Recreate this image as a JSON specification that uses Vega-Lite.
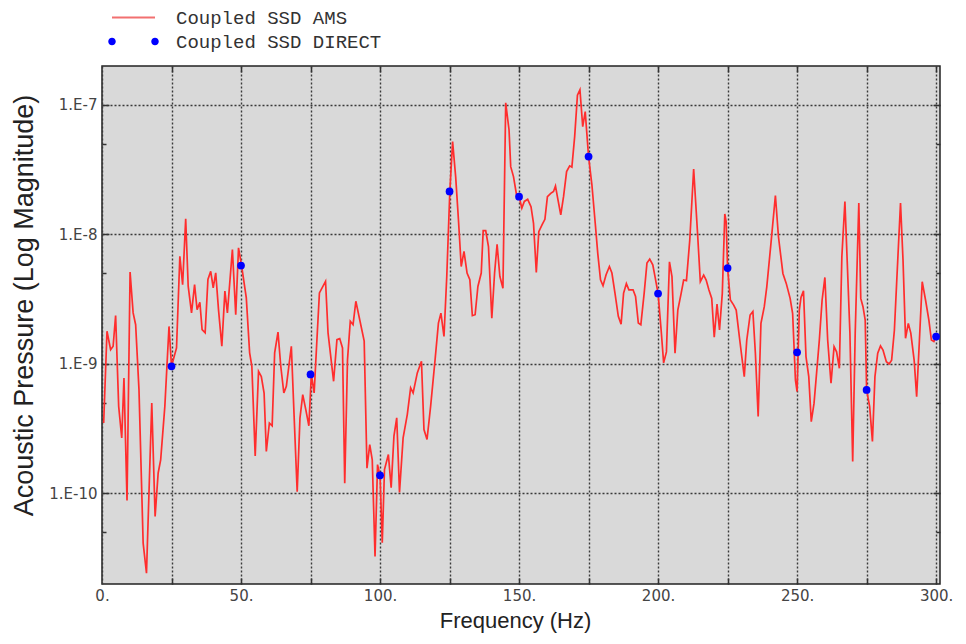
{
  "$schema": "https://vega.github.io/schema/vega-lite/v6.json",
  "width": 838,
  "height": 518,
  "autosize": "none",
  "padding": {"left": 102, "top": 66, "right": 26, "bottom": 60},
  "background": "white",
  "datasets": {
    "ams": [
      {"f": 0.6, "p": 3.5e-10}, {"f": 1.8, "p": 1.79e-9}, {"f": 3.1, "p": 1.29e-9}, {"f": 4.0, "p": 1.37e-9},
      {"f": 4.9, "p": 2.37e-9}, {"f": 6.0, "p": 4.71e-10}, {"f": 7.1, "p": 2.68e-10}, {"f": 7.9, "p": 7.8e-10},
      {"f": 9.0, "p": 8.83e-11}, {"f": 10.1, "p": 5.12e-9}, {"f": 11.2, "p": 2.48e-9}, {"f": 12.1, "p": 2.01e-9},
      {"f": 13.3, "p": 6.34e-10}, {"f": 14.8, "p": 4.13e-11}, {"f": 16.0, "p": 2.42e-11}, {"f": 17.9, "p": 4.99e-10},
      {"f": 19.1, "p": 6.64e-11}, {"f": 20.2, "p": 1.44e-10}, {"f": 21.1, "p": 1.82e-10}, {"f": 22.6, "p": 4.71e-10},
      {"f": 24.1, "p": 1.95e-9}, {"f": 25.0, "p": 9.6e-10}, {"f": 26.8, "p": 1.33e-9}, {"f": 28.0, "p": 6.79e-9},
      {"f": 29.0, "p": 4.1e-9}, {"f": 30.1, "p": 1.32e-8}, {"f": 31.0, "p": 3.99e-9}, {"f": 32.2, "p": 2.48e-9},
      {"f": 33.3, "p": 4.1e-9}, {"f": 34.2, "p": 2.63e-9}, {"f": 35.2, "p": 3.0e-9}, {"f": 36.0, "p": 1.84e-9},
      {"f": 37.1, "p": 1.74e-9}, {"f": 38.1, "p": 4.49e-9}, {"f": 39.1, "p": 5.2e-9}, {"f": 40.0, "p": 3.87e-9},
      {"f": 40.9, "p": 5.06e-9}, {"f": 41.9, "p": 2.63e-9}, {"f": 43.1, "p": 1.37e-9}, {"f": 44.2, "p": 3.65e-9},
      {"f": 45.1, "p": 2.48e-9}, {"f": 46.9, "p": 7.66e-9}, {"f": 48.1, "p": 2.4e-9}, {"f": 49.1, "p": 7.89e-9},
      {"f": 50.2, "p": 5.75e-9}, {"f": 51.9, "p": 3.24e-9}, {"f": 53.1, "p": 1.22e-9}, {"f": 53.9, "p": 9.6e-10},
      {"f": 55.1, "p": 1.95e-10}, {"f": 56.3, "p": 8.77e-10}, {"f": 57.3, "p": 8.0e-10}, {"f": 58.3, "p": 5.97e-10},
      {"f": 59.1, "p": 2.11e-10}, {"f": 60.2, "p": 3.5e-10}, {"f": 61.2, "p": 3.33e-10}, {"f": 62.1, "p": 1.22e-9},
      {"f": 63.3, "p": 1.76e-9}, {"f": 64.3, "p": 9.6e-10}, {"f": 65.4, "p": 5.97e-10}, {"f": 66.3, "p": 6.72e-10},
      {"f": 68.1, "p": 1.37e-9}, {"f": 69.1, "p": 3.94e-10}, {"f": 70.2, "p": 1.03e-10}, {"f": 71.2, "p": 3.82e-10},
      {"f": 72.2, "p": 5.8e-10}, {"f": 73.3, "p": 4.44e-10}, {"f": 74.4, "p": 3.33e-10}, {"f": 75.3, "p": 8.28e-10},
      {"f": 76.3, "p": 5.97e-10}, {"f": 77.3, "p": 1.54e-9}, {"f": 78.2, "p": 3.54e-9}, {"f": 80.4, "p": 4.35e-9},
      {"f": 81.3, "p": 1.74e-9}, {"f": 83.3, "p": 7.35e-10}, {"f": 84.5, "p": 1.54e-9}, {"f": 85.5, "p": 1.57e-9},
      {"f": 86.5, "p": 1.33e-9}, {"f": 87.3, "p": 1.2e-10}, {"f": 88.3, "p": 1.08e-9}, {"f": 89.3, "p": 2.14e-9},
      {"f": 90.3, "p": 2.01e-9}, {"f": 91.3, "p": 3.05e-9}, {"f": 94.3, "p": 1.5e-9}, {"f": 95.3, "p": 1.57e-10},
      {"f": 96.3, "p": 2.38e-10}, {"f": 97.2, "p": 1.82e-10}, {"f": 98.2, "p": 3.26e-11}, {"f": 99.1, "p": 1.67e-10},
      {"f": 100.0, "p": 1.38e-10}, {"f": 100.8, "p": 4.17e-11}, {"f": 101.6, "p": 1.53e-10}, {"f": 103.0, "p": 2.0e-10},
      {"f": 104.0, "p": 1.11e-10}, {"f": 105.0, "p": 2.77e-10}, {"f": 106.0, "p": 3.84e-10}, {"f": 107.0, "p": 1.02e-10},
      {"f": 108.3, "p": 2.69e-10}, {"f": 109.8, "p": 4.07e-10}, {"f": 111.0, "p": 6.53e-10}, {"f": 111.9, "p": 5.97e-10},
      {"f": 113.4, "p": 8.53e-10}, {"f": 114.9, "p": 1.05e-9}, {"f": 115.8, "p": 3.12e-10}, {"f": 116.9, "p": 2.61e-10},
      {"f": 118.2, "p": 4.72e-10}, {"f": 119.8, "p": 1.08e-9}, {"f": 121.0, "p": 2.07e-9}, {"f": 121.9, "p": 2.47e-9},
      {"f": 123.0, "p": 1.63e-9}, {"f": 124.0, "p": 4.74e-9}, {"f": 125.1, "p": 2.15e-8}, {"f": 126.1, "p": 5.21e-8},
      {"f": 127.2, "p": 2.8e-8}, {"f": 128.2, "p": 1.3e-8}, {"f": 129.2, "p": 5.66e-9}, {"f": 130.2, "p": 7.4e-9},
      {"f": 131.3, "p": 5.04e-9}, {"f": 132.3, "p": 4.47e-9}, {"f": 133.2, "p": 2.36e-9}, {"f": 134.2, "p": 2.4e-9},
      {"f": 135.2, "p": 3.97e-9}, {"f": 136.4, "p": 5.04e-9}, {"f": 137.1, "p": 1.07e-8}, {"f": 138.0, "p": 1.07e-8},
      {"f": 139.0, "p": 8.07e-9}, {"f": 140.2, "p": 2.26e-9}, {"f": 141.2, "p": 5.04e-9}, {"f": 142.1, "p": 8.41e-9},
      {"f": 143.1, "p": 4.74e-9}, {"f": 144.2, "p": 3.85e-9}, {"f": 145.2, "p": 1.04e-7}, {"f": 146.4, "p": 6.41e-8},
      {"f": 147.0, "p": 3.34e-8}, {"f": 148.0, "p": 2.8e-8}, {"f": 149.1, "p": 2.02e-8}, {"f": 150.0, "p": 1.96e-8},
      {"f": 151.0, "p": 1.6e-8}, {"f": 151.9, "p": 1.8e-8}, {"f": 153.1, "p": 1.87e-8}, {"f": 154.3, "p": 1.64e-8},
      {"f": 155.2, "p": 1.22e-8}, {"f": 156.2, "p": 5.09e-9}, {"f": 157.1, "p": 1.05e-8}, {"f": 158.3, "p": 1.19e-8},
      {"f": 159.3, "p": 1.31e-8}, {"f": 160.2, "p": 1.96e-8}, {"f": 161.4, "p": 2.08e-8}, {"f": 162.4, "p": 2.15e-8},
      {"f": 163.1, "p": 2.37e-8}, {"f": 164.0, "p": 1.85e-8}, {"f": 165.0, "p": 1.42e-8}, {"f": 166.0, "p": 1.96e-8},
      {"f": 167.1, "p": 3.06e-8}, {"f": 168.2, "p": 3.39e-8}, {"f": 169.0, "p": 3.31e-8}, {"f": 170.0, "p": 5.7e-8},
      {"f": 171.0, "p": 1.19e-7}, {"f": 171.9, "p": 1.31e-7}, {"f": 172.9, "p": 6.81e-8}, {"f": 173.8, "p": 8.89e-8},
      {"f": 175.0, "p": 4.0e-8}, {"f": 176.2, "p": 2.42e-8}, {"f": 177.4, "p": 1.22e-8}, {"f": 178.3, "p": 7.18e-9},
      {"f": 179.3, "p": 4.47e-9}, {"f": 180.2, "p": 4.02e-9}, {"f": 181.3, "p": 4.89e-9}, {"f": 182.5, "p": 5.66e-9},
      {"f": 183.4, "p": 5.04e-9}, {"f": 184.5, "p": 3.53e-9}, {"f": 185.7, "p": 2.33e-9}, {"f": 186.7, "p": 2.03e-9},
      {"f": 187.6, "p": 3.53e-9}, {"f": 188.6, "p": 4.17e-9}, {"f": 189.5, "p": 3.74e-9}, {"f": 191.0, "p": 3.74e-9},
      {"f": 191.9, "p": 3.33e-9}, {"f": 192.9, "p": 2.07e-9}, {"f": 193.8, "p": 2.01e-9}, {"f": 195.0, "p": 3.53e-9},
      {"f": 196.0, "p": 6.01e-9}, {"f": 197.0, "p": 6.46e-9}, {"f": 198.1, "p": 5.83e-9}, {"f": 199.0, "p": 4.6e-9},
      {"f": 200.0, "p": 3.5e-9}, {"f": 201.1, "p": 1.83e-9}, {"f": 202.0, "p": 1.02e-9}, {"f": 203.0, "p": 1.24e-9},
      {"f": 204.1, "p": 6.15e-9}, {"f": 205.0, "p": 4.72e-9}, {"f": 206.1, "p": 1.21e-9}, {"f": 207.1, "p": 2.61e-9},
      {"f": 208.3, "p": 3.51e-9}, {"f": 209.2, "p": 4.45e-9}, {"f": 210.2, "p": 4.4e-9}, {"f": 211.4, "p": 9.04e-9},
      {"f": 212.8, "p": 3.2e-8}, {"f": 214.2, "p": 1.02e-8}, {"f": 215.2, "p": 4.32e-9}, {"f": 216.4, "p": 4.85e-9},
      {"f": 217.3, "p": 4.45e-9}, {"f": 218.3, "p": 3.72e-9}, {"f": 219.3, "p": 3.21e-9}, {"f": 220.2, "p": 1.61e-9},
      {"f": 221.2, "p": 2.9e-9}, {"f": 222.1, "p": 1.83e-9}, {"f": 223.1, "p": 3.51e-9}, {"f": 224.0, "p": 1.44e-8},
      {"f": 224.5, "p": 1.25e-8}, {"f": 225.0, "p": 5.47e-9}, {"f": 226.0, "p": 3.12e-9}, {"f": 227.2, "p": 2.85e-9},
      {"f": 228.1, "p": 2.61e-9}, {"f": 229.3, "p": 1.58e-9}, {"f": 231.0, "p": 7.98e-10}, {"f": 231.9, "p": 1.53e-9},
      {"f": 233.1, "p": 2.39e-9}, {"f": 234.1, "p": 2.54e-9}, {"f": 235.0, "p": 1.21e-9}, {"f": 236.0, "p": 3.93e-10},
      {"f": 237.0, "p": 2.06e-9}, {"f": 238.2, "p": 2.77e-9}, {"f": 239.1, "p": 3.94e-9}, {"f": 240.6, "p": 8.53e-9},
      {"f": 242.2, "p": 2.0e-8}, {"f": 243.3, "p": 9.6e-9}, {"f": 244.9, "p": 5.0e-9}, {"f": 246.1, "p": 4.19e-9},
      {"f": 247.5, "p": 3.21e-9}, {"f": 248.4, "p": 2.45e-9}, {"f": 249.4, "p": 7.53e-10}, {"f": 250.0, "p": 6.12e-10},
      {"f": 250.8, "p": 2.61e-9}, {"f": 251.4, "p": 3.27e-9}, {"f": 252.3, "p": 3.68e-9}, {"f": 253.2, "p": 1.14e-9},
      {"f": 254.2, "p": 7.98e-10}, {"f": 255.1, "p": 3.59e-10}, {"f": 256.1, "p": 4.98e-10}, {"f": 257.0, "p": 8.47e-10},
      {"f": 258.0, "p": 1.53e-9}, {"f": 259.0, "p": 3.12e-9}, {"f": 260.0, "p": 4.66e-9}, {"f": 261.0, "p": 1.53e-9},
      {"f": 262.2, "p": 7.1e-10}, {"f": 263.3, "p": 1.36e-9}, {"f": 264.2, "p": 1.24e-9}, {"f": 265.2, "p": 9.27e-10},
      {"f": 266.1, "p": 6.73e-9}, {"f": 267.2, "p": 1.8e-8}, {"f": 268.1, "p": 5.64e-9}, {"f": 269.0, "p": 1.73e-9},
      {"f": 270.0, "p": 1.77e-10}, {"f": 270.9, "p": 1.73e-9}, {"f": 272.2, "p": 1.75e-8}, {"f": 272.9, "p": 3.21e-9},
      {"f": 273.7, "p": 2.77e-9}, {"f": 274.5, "p": 2.18e-9}, {"f": 275.0, "p": 6.3e-10}, {"f": 276.1, "p": 4.69e-10},
      {"f": 277.1, "p": 2.52e-10}, {"f": 278.0, "p": 7.98e-10}, {"f": 279.0, "p": 1.21e-9}, {"f": 280.0, "p": 1.38e-9},
      {"f": 280.9, "p": 1.28e-9}, {"f": 282.1, "p": 1.04e-9}, {"f": 283.1, "p": 1.0e-9}, {"f": 284.0, "p": 1.07e-9},
      {"f": 285.0, "p": 1.83e-9}, {"f": 285.8, "p": 4.19e-9}, {"f": 287.2, "p": 1.75e-8}, {"f": 288.1, "p": 6.34e-9},
      {"f": 289.0, "p": 1.58e-9}, {"f": 290.0, "p": 2.06e-9}, {"f": 290.9, "p": 1.73e-9}, {"f": 292.1, "p": 1.07e-9},
      {"f": 293.0, "p": 5.6e-10}, {"f": 294.0, "p": 1.53e-9}, {"f": 295.0, "p": 4.32e-9}, {"f": 296.2, "p": 3.12e-9},
      {"f": 297.4, "p": 2.18e-9}, {"f": 298.3, "p": 1.53e-9}, {"f": 299.2, "p": 1.49e-9}, {"f": 300.0, "p": 1.63e-9}
    ],
    "direct": [
      {"f": 25, "p": 9.6e-10},
      {"f": 50, "p": 5.75e-9},
      {"f": 75, "p": 8.3e-10},
      {"f": 100, "p": 1.38e-10},
      {"f": 125, "p": 2.15e-8},
      {"f": 150, "p": 1.96e-8},
      {"f": 175, "p": 4.0e-8},
      {"f": 200, "p": 3.5e-9},
      {"f": 225, "p": 5.5e-9},
      {"f": 250, "p": 1.23e-9},
      {"f": 275, "p": 6.3e-10},
      {"f": 300, "p": 1.63e-9}
    ],
    "series": [
      {"f": 300, "p": 1.63e-9, "series": "Coupled SSD AMS"},
      {"f": 300, "p": 1.63e-9, "series": "Coupled SSD DIRECT"}
    ]
  },
  "layer": [
    {
      "data": {"name": "ams"},
      "mark": {"type": "line", "color": "#ff2d2d", "strokeWidth": 1.7},
      "encoding": {
        "x": {
          "field": "f", "type": "quantitative",
          "scale": {"domain": [0, 301.4], "nice": false, "zero": false},
          "axis": {
            "orient": "bottom",
            "values": [0, 25, 50, 75, 100, 125, 150, 175, 200, 225, 250, 275, 300],
            "labelExpr": "datum.value % 50 == 0 ? datum.value + '.' : ''",
            "labelOverlap": false, "labelFlush": false,
            "labelFont": "DejaVu Sans", "labelFontSize": 15, "labelColor": "#444", "labelPadding": 4,
            "ticks": false, "domain": false,
            "grid": true, "gridDash": [2, 2], "gridColor": "#3a3a3a", "gridWidth": 1.4,
            "title": "Frequency (Hz)", "titleFont": "Liberation Sans", "titleFontSize": 22,
            "titleFontWeight": "normal", "titleColor": "#222",
            "titleBaseline": "alphabetic", "titleX": 413, "titleY": 43
          }
        },
        "y": {
          "field": "p", "type": "quantitative",
          "scale": {"type": "log", "domain": [2e-11, 2e-7], "nice": false},
          "axis": {
            "orient": "left",
            "values": [1e-10, 1e-9, 1e-8, 1e-7],
            "labelExpr": "'1.E' + round(log(datum.value) / LN10)",
            "labelFont": "DejaVu Sans", "labelFontSize": 15, "labelColor": "#444", "labelPadding": 5,
            "ticks": false, "domain": false,
            "grid": true, "gridDash": [2, 2], "gridColor": "#3a3a3a", "gridWidth": 1.4,
            "title": "Acoustic Pressure (Log Magnitude)", "titleFont": "Liberation Sans", "titleFontSize": 27,
            "titleFontWeight": "normal", "titleColor": "#222",
            "titleBaseline": "alphabetic", "titleX": -70, "titleY": 239
          }
        }
      }
    },
    {
      "data": {"name": "direct"},
      "mark": {"type": "point", "filled": true, "size": 60, "opacity": 1, "color": "#0000ff", "shape": "circle"},
      "encoding": {
        "x": {
          "field": "f", "type": "quantitative",
          "axis": {
            "orient": "top",
            "values": [25, 50, 75, 100, 125, 150, 175, 200, 225, 250, 275, 300],
            "labels": false, "grid": false, "domain": false, "title": null,
            "ticks": true, "tickSize": -6, "tickColor": "#333", "tickWidth": 1.5
          }
        },
        "y": {
          "field": "p", "type": "quantitative",
          "axis": {
            "orient": "right",
            "values": [5e-11, 1e-10, 5e-10, 1e-9, 5e-9, 1e-8, 5e-8, 1e-7],
            "labels": false, "grid": false, "domain": false, "title": null,
            "ticks": true, "tickColor": "#333", "tickWidth": 1.5,
            "tickSize": {"condition": {"test": "abs(log(datum.value) / LN10 - round(log(datum.value) / LN10)) < 0.01", "value": -7}, "value": -4}
          }
        }
      }
    },
    {
      "data": {"name": "series"},
      "mark": {"type": "point", "filled": true, "size": 0},
      "encoding": {
        "x": {
          "field": "f", "type": "quantitative",
          "axis": {
            "orient": "bottom",
            "values": [25, 50, 75, 100, 125, 150, 175, 200, 225, 250, 275, 300],
            "labels": false, "grid": false, "domain": false, "title": null,
            "ticks": true, "tickSize": -6, "tickColor": "#333", "tickWidth": 1.5
          }
        },
        "y": {
          "field": "p", "type": "quantitative",
          "axis": {
            "orient": "left",
            "values": [5e-11, 1e-10, 5e-10, 1e-9, 5e-9, 1e-8, 5e-8, 1e-7],
            "labels": false, "grid": false, "domain": false, "title": null,
            "ticks": true, "tickColor": "#333", "tickWidth": 1.5,
            "tickSize": {"condition": {"test": "abs(log(datum.value) / LN10 - round(log(datum.value) / LN10)) < 0.01", "value": -7}, "value": -4}
          }
        },
        "color": {
          "field": "series", "type": "nominal",
          "scale": {"domain": ["Coupled SSD AMS", "Coupled SSD DIRECT"], "range": ["#f27070", "#0000ff"]},
          "legend": {
            "title": null, "orient": "none", "legendX": 22, "legendY": -58,
            "padding": 0, "symbolSize": 100, "symbolStrokeWidth": 0, "symbolOpacity": 1,
            "labelFont": "Liberation Mono", "labelFontSize": 19, "labelColor": "#333",
            "labelOffset": 33, "labelLimit": 400, "rowPadding": 4
          }
        },
        "shape": {
          "field": "series", "type": "nominal",
          "scale": {
            "domain": ["Coupled SSD AMS", "Coupled SSD DIRECT"],
            "range": [
              "M-4.3,-0.2L4.3,-0.2L4.3,0.2L-4.3,0.2Z",
              "M-5.05,0A0.75,0.75 0 1,0 -3.55,0A0.75,0.75 0 1,0 -5.05,0ZM3.55,0A0.75,0.75 0 1,0 5.05,0A0.75,0.75 0 1,0 3.55,0Z"
            ]
          },
          "legend": {
            "title": null, "orient": "none", "legendX": 22, "legendY": -58,
            "padding": 0, "symbolSize": 100, "symbolStrokeWidth": 0, "symbolOpacity": 1,
            "labelFont": "Liberation Mono", "labelFontSize": 19, "labelColor": "#333",
            "labelOffset": 33, "labelLimit": 400, "rowPadding": 4
          }
        }
      }
    }
  ],
  "resolve": {"axis": {"x": "independent", "y": "independent"}},
  "config": {
    "view": {"fill": "#d9d9d9", "stroke": "#222", "strokeWidth": 1.5}
  }
}
